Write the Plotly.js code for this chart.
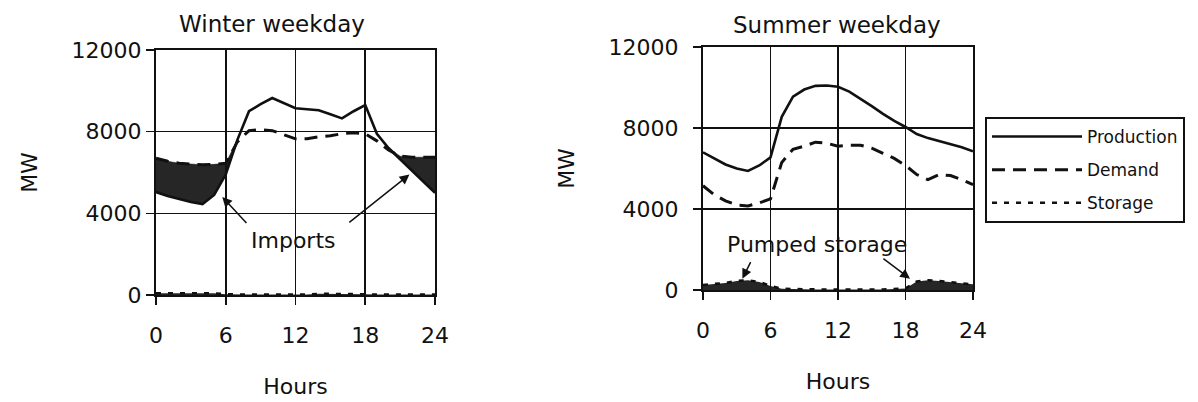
<!DOCTYPE html>
<html>
<head>
<meta charset="utf-8">
<script src="https://cdn.plot.ly/plotly-3.0.1.min.js"></script>
<style>html,body{margin:0;padding:0;background:#fff;}#chart{width:1198px;height:402px;}</style>
</head>
<body>
<div id="chart"></div>
<script>
// ---- data ----
const hours = [0,1,2,3,4,5,6,7,8,9,10,11,12,13,14,15,16,17,18,19,20,21,22,23,24];
const hourTicks = [0,6,12,18,24];
const mwTicks = [0,4000,8000,12000];

const winterProduction = [5040,4850,4700,4550,4450,4900,5900,7600,9000,9350,9650,9400,9150,9100,9050,8850,8650,9000,9300,7900,7200,6650,6100,5550,5000];
const winterDemand     = [6700,6550,6450,6400,6380,6400,6450,7500,8050,8100,8050,7850,7650,7650,7750,7800,7900,7950,7900,7550,7100,6800,6750,6750,6750];
const winterStorage    = [80,80,80,80,80,80,40,20,20,20,20,20,20,20,60,60,60,60,40,20,20,20,20,20,20];

const summerProduction = [6800,6500,6200,6000,5880,6150,6550,8550,9550,9900,10080,10100,10040,9800,9450,9080,8700,8350,8050,7700,7500,7350,7200,7050,6850];
const summerDemand     = [5150,4700,4400,4200,4150,4300,4500,6300,6950,7100,7300,7250,7100,7150,7150,7000,6750,6500,6150,5700,5450,5700,5650,5450,5200];
const summerStorage    = [250,300,350,450,480,400,200,60,40,30,30,30,20,20,20,20,30,40,80,420,480,450,380,330,280];

const seriesNames = ['Production','Demand','Storage'];
const titles = ['Winter weekday','Summer weekday'];
const xTitle = 'Hours';
const yTitle = 'MW';
const importsLabel = 'Imports';
const pumpedLabel = 'Pumped storage';

// ---- styling ----
const FONT = 'DejaVu Sans, Verdana, sans-serif';
const INK = '#111111';
const FILL = 'rgba(20,20,20,0.92)';
const dashDemand = '13px,8px';
const dashStorage = '5px,7px';

// imports band: upper edge = max(demand, production)
const winterImportsTop = winterDemand.map((d,i)=>Math.max(d, winterProduction[i]));

const traces = [
  // winter
  {x:hours, y:winterProduction, xaxis:'x', yaxis:'y', mode:'lines', line:{color:INK,width:2.6}, showlegend:false},
  {x:hours, y:winterImportsTop, xaxis:'x', yaxis:'y', mode:'lines', line:{color:INK,width:0.5}, fill:'tonexty', fillcolor:FILL, showlegend:false},
  {x:hours, y:winterDemand, xaxis:'x', yaxis:'y', mode:'lines', line:{color:INK,width:3,dash:dashDemand}, showlegend:false},
  {x:hours, y:winterStorage, xaxis:'x', yaxis:'y', mode:'lines', line:{color:INK,width:0}, fill:'tozeroy', fillcolor:FILL, showlegend:false},
  {x:hours, y:winterStorage, xaxis:'x', yaxis:'y', mode:'lines', line:{color:INK,width:2.5,dash:dashStorage}, showlegend:false},
  // summer
  {x:hours, y:summerStorage, xaxis:'x2', yaxis:'y2', mode:'lines', line:{color:INK,width:0}, fill:'tozeroy', fillcolor:FILL, showlegend:false},
  {x:hours, y:summerProduction, xaxis:'x2', yaxis:'y2', name:seriesNames[0], legendgroup:'a', mode:'lines', line:{color:INK,width:2.6}},
  {x:hours, y:summerDemand, xaxis:'x2', yaxis:'y2', name:seriesNames[1], legendgroup:'b', mode:'lines', line:{color:INK,width:3,dash:dashDemand}},
  {x:hours, y:summerStorage, xaxis:'x2', yaxis:'y2', name:seriesNames[2], legendgroup:'c', mode:'lines', line:{color:INK,width:2.5,dash:dashStorage}}
];

function xAxis(domain){
  return {domain:domain, range:[0,24], tickvals:hourTicks, ticktext:hourTicks.map(String),
    showgrid:true, gridcolor:INK, gridwidth:1.6, showline:true, linecolor:INK, linewidth:2, mirror:true,
    ticks:'outside', ticklen:8, tickwidth:1.6, tickcolor:INK, zeroline:false,
    tickfont:{family:FONT,size:22,color:INK}, ticklabelstandoff:12,
    title:{text:xTitle, font:{family:FONT,size:22,color:INK}, standoff:31}, fixedrange:true};
}
function yAxis(domain, anchor, standoff){
  return {domain:domain, range:[0,12000], tickvals:mwTicks, ticktext:mwTicks.map(String), anchor:anchor,
    showgrid:true, gridcolor:INK, gridwidth:1.6, showline:true, linecolor:INK, linewidth:2, mirror:true,
    ticks:'outside', ticklen:8, tickwidth:1.6, tickcolor:INK, zeroline:false,
    tickfont:{family:FONT,size:22,color:INK}, ticklabelstandoff:standoff,
    title:{text:yTitle, font:{family:FONT,size:22,color:INK}, standoff:28}, fixedrange:true};
}

const W = 1198, H = 402;
const px = v => v/W, py = v => 1 - v/H;

const layout = {
  width:W, height:H, paper_bgcolor:'#fff', plot_bgcolor:'#fff',
  margin:{l:0,r:0,t:0,b:0}, font:{family:FONT,color:INK},
  xaxis: Object.assign(xAxis([px(156),px(435)]), {anchor:'y'}),
  yaxis: yAxis([py(295),py(50)], 'x', 0),
  xaxis2: Object.assign(xAxis([px(703),px(973)]), {anchor:'y2'}),
  yaxis2: yAxis([py(290),py(47)], 'x2', 10),
  showlegend:true,
  legend:{x:px(985), y:py(117), xanchor:'left', yanchor:'top', bgcolor:'#fff', bordercolor:INK, borderwidth:2,
    font:{family:FONT,size:17,color:INK}, itemwidth:90, traceorder:'grouped', tracegroupgap:8},
  annotations:[
    {xref:'paper', yref:'paper', x:px(272), y:py(24), text:titles[0], showarrow:false, font:{family:FONT,size:23,color:INK}, xanchor:'center', yanchor:'middle'},
    {xref:'paper', yref:'paper', x:px(837), y:py(25), text:titles[1], showarrow:false, font:{family:FONT,size:23,color:INK}, xanchor:'center', yanchor:'middle'},
    {xref:'x', yref:'y', x:11.8, y:2650, text:importsLabel, showarrow:false, font:{family:FONT,size:22,color:INK}},
    {xref:'x', yref:'y', x:5.7, y:4800, axref:'x', ayref:'y', ax:7.9, ay:3450, text:'', showarrow:true, arrowhead:2, arrowsize:1.3, arrowwidth:1.5, arrowcolor:INK},
    {xref:'x', yref:'y', x:21.8, y:5900, axref:'x', ayref:'y', ax:16.5, ay:3500, text:'', showarrow:true, arrowhead:2, arrowsize:1.3, arrowwidth:1.5, arrowcolor:INK},
    {xref:'x2', yref:'y2', x:10.1, y:2250, text:pumpedLabel, showarrow:false, font:{family:FONT,size:22,color:INK}},
    {xref:'x2', yref:'y2', x:3.5, y:560, axref:'x2', ayref:'y2', ax:4.3, ay:1450, text:'', showarrow:true, arrowhead:2, arrowsize:1.3, arrowwidth:1.5, arrowcolor:INK},
    {xref:'x2', yref:'y2', x:18.4, y:560, axref:'x2', ayref:'y2', ax:15.9, ay:1600, text:'', showarrow:true, arrowhead:2, arrowsize:1.3, arrowwidth:1.5, arrowcolor:INK}
  ]
};

Plotly.newPlot('chart', traces, layout, {displayModeBar:false, staticPlot:true});
</script>
</body>
</html>
